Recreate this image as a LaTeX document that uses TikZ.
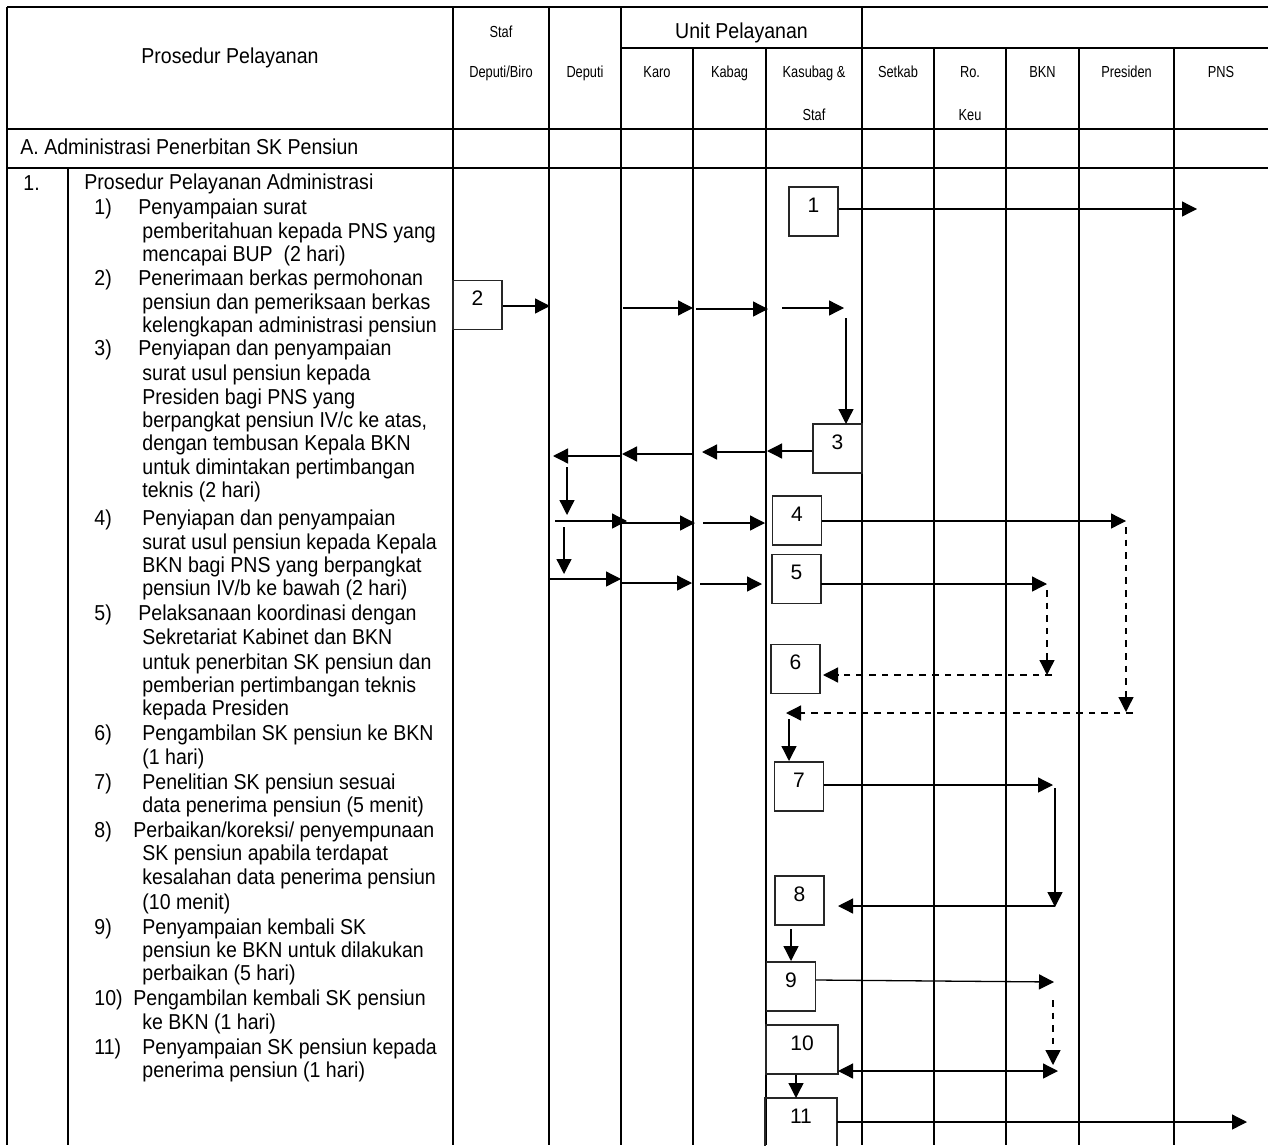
\documentclass[tikz,border=0pt]{standalone}
\usepackage{fontspec}
\setmainfont{Liberation Sans}
\newfontfamily\bodyfont[FakeStretch=0.905]{Liberation Sans}
\newfontfamily\hdrfont[FakeStretch=0.8]{Liberation Sans}
\usetikzlibrary{arrows.meta}
\begin{document}
\begin{tikzpicture}[x=0.5pt,y=-0.5pt,
  grid/.style={line width=1pt, black},
  body/.style={font=\bodyfont\fontsize{10.8}{12}\selectfont, inner sep=0pt, anchor=base west},
  big/.style={font=\bodyfont\fontsize{10.8}{12}\selectfont, inner sep=0pt, anchor=base},
  hdr/.style={font=\hdrfont\fontsize{8}{9}\selectfont, inner sep=0pt, anchor=base},
  boxn/.style={draw=black!85, line width=0.7pt, minimum width=24.5pt, minimum height=24.5pt, inner sep=0pt, text height=12.5pt, text depth=12pt, font=\fontsize{10.5}{12}\selectfont},
  wbox/.style={boxn, minimum width=36pt},
  arr/.style={line width=0.65pt, -{Triangle[length=7.5pt,width=7.5pt]}},
  darr/.style={arr, dash pattern=on 3.3pt off 3pt},
  dbl/.style={line width=0.65pt, {Triangle[length=7.5pt,width=7.5pt]}-{Triangle[length=7.5pt,width=7.5pt]}}
]
\clip (0,0) rectangle (1268,1145);
\fill[white] (0,0) rectangle (1268,1145);
% ---------- table grid ----------
\draw[grid] (7,7) -- (1268,7);
\draw[grid] (7,7) -- (7,1145);
\draw[grid] (621,48) -- (1268,48);
\draw[grid] (7,129) -- (1268,129);
\draw[grid] (7,168) -- (1268,168);
\foreach \xx in {453,549,621,862} \draw[grid] (\xx,7) -- (\xx,1145);
\foreach \xx in {693,766,934,1006,1079,1174} \draw[grid] (\xx,48) -- (\xx,1145);
\draw[grid] (68,168) -- (68,1145);
% ---------- header ----------
\node[big] (hpros) at (230,64) {Prosedur Pelayanan};
\node[big] (hunit) at (741.5,39) {Unit Pelayanan};
\node[hdr] (hstaf) at (501,38) {Staf};
\node[hdr] (hdb) at (501,78) {Deputi/Biro};
\node[hdr] (hdep) at (585,78) {Deputi};
\node[hdr] (hkaro) at (657,78) {Karo};
\node[hdr] (hkabag) at (729.5,78) {Kabag};
\node[hdr] (hkasub) at (814,78) {Kasubag \&};
\node[hdr] (hkasub2) at (814,120) {Staf};
\node[hdr] (hsetkab) at (898,78) {Setkab};
\node[hdr] (hro) at (970,78) {Ro.};
\node[hdr] (hro2) at (970,120) {Keu};
\node[hdr] (hbkn) at (1042.5,78) {BKN};
\node[hdr] (hpres) at (1126.5,78) {Presiden};
\node[hdr] (hpns) at (1221,78) {PNS};
\node[body] (hsecA) at (20,155) {A. Administrasi Penerbitan SK Pensiun};
\node[body] (hone) at (23,190) {1.};
% ---------- procedure text ----------
\foreach \yy/\xx/\tt [count=\i] in {
189/84/{Prosedur Pelayanan Administrasi},
214/138/{Penyampaian surat},
238/142/{pemberitahuan kepada PNS yang},
261/142/{mencapai BUP\ \ (2 hari)},
285/138/{Penerimaan berkas permohonan},
309/142/{pensiun dan pemeriksaan berkas},
332/142/{kelengkapan administrasi pensiun},
355/138/{Penyiapan dan penyampaian},
380/142/{surat usul pensiun kepada},
404/142/{Presiden bagi PNS yang},
427/142/{berpangkat pensiun IV/c ke atas,},
450/142/{dengan tembusan Kepala BKN},
474/142/{untuk dimintakan pertimbangan},
497/142/{teknis (2 hari)},
525/142/{Penyiapan dan penyampaian},
549/142/{surat usul pensiun kepada Kepala},
572/142/{BKN bagi PNS yang berpangkat},
595/142/{pensiun IV/b ke bawah (2 hari)},
620/138/{Pelaksanaan koordinasi dengan},
644/142/{Sekretariat Kabinet dan BKN},
669/142/{untuk penerbitan SK pensiun dan},
692/142/{pemberian pertimbangan teknis},
715/142/{kepada Presiden},
740/142/{Pengambilan SK pensiun ke BKN},
764/142/{(1 hari)},
789/142/{Penelitian SK pensiun sesuai},
812/142/{data penerima pensiun (5 menit)},
837/133/{Perbaikan/koreksi/ penyempunaan},
860/142/{SK pensiun apabila terdapat},
884/142/{kesalahan data penerima pensiun},
909/142/{(10 menit)},
934/142/{Penyampaian kembali SK},
957/142/{pensiun ke BKN untuk dilakukan},
980/142/{perbaikan (5 hari)},
1005/133/{Pengambilan kembali SK pensiun},
1029/142/{ke BKN (1 hari)},
1054/142/{Penyampaian SK pensiun kepada},
1077/142/{penerima pensiun (1 hari)}}
  \node[body, name=ln\i] at (\xx,\yy) {\tt};
\foreach \yy/\tt [count=\i] in {214/1), 285/2), 355/3), 525/4), 620/5), 740/6), 789/7), 837/8), 934/9), 1005/10), 1054/11)}
  \node[body, name=nm\i] at (94,\yy) {\tt};
% ---------- boxes ----------
\node[boxn] (b1) at (813.5,211.5) {1};
\node[boxn] (b2) at (477.5,305) {2};
\node[boxn] (b3) at (837.5,448.5) {3};
\node[boxn] (b4) at (797,520.5) {4};
\node[boxn] (b5) at (796.5,579) {5};
\node[boxn] (b6) at (795.5,669) {6};
\node[boxn] (b7) at (799,786.5) {7};
\node[boxn] (b8) at (799.5,900.5) {8};
\node[boxn] (b9) at (791,986.5) {9};
\node[wbox] (b10) at (802,1049.5) {10};
\node[wbox] (b11) at (801,1122.5) {11};
% ---------- connector points ----------
\coordinate (p1) at (1197,209);
\coordinate (p2) at (550,306);
\coordinate (p3a) at (623,308);  \coordinate (p3b) at (693,308);
\coordinate (p4a) at (696,309);  \coordinate (p4b) at (768,309);
\coordinate (p5a) at (782,308);  \coordinate (p5b) at (844,308);
\coordinate (p6a) at (846,318);  \coordinate (p6b) at (846,424);
\coordinate (p7b) at (767,451);
\coordinate (p8a) at (765,452);  \coordinate (p8b) at (702,452);
\coordinate (p9a) at (693,454);  \coordinate (p9b) at (622,454);
\coordinate (p10a) at (622,456); \coordinate (p10b) at (553,456);
\coordinate (p11a) at (567,467); \coordinate (p11b) at (567,515);
\coordinate (p12a) at (555,521); \coordinate (p12b) at (627,521);
\coordinate (p13a) at (622,523); \coordinate (p13b) at (695,523);
\coordinate (p14a) at (703,523); \coordinate (p14b) at (765,523);
\coordinate (p15b) at (1126,521);
\coordinate (p16a) at (1126,527); \coordinate (p16b) at (1126,712);
\coordinate (p17a) at (1133,713); \coordinate (p17b) at (786,713);
\coordinate (p18a) at (789,719); \coordinate (p18b) at (789,761);
\coordinate (p19a) at (564,527); \coordinate (p19b) at (564,574);
\coordinate (p20a) at (549,579); \coordinate (p20b) at (621,579);
\coordinate (p21a) at (622,583); \coordinate (p21b) at (692,583);
\coordinate (p22a) at (700,584); \coordinate (p22b) at (762,584);
\coordinate (p23a) at (821,584); \coordinate (p23b) at (1047,584);
\coordinate (p24a) at (1047,590); \coordinate (p24b) at (1047,675);
\coordinate (p25a) at (1052,675); \coordinate (p25b) at (823,675);
\coordinate (p26a) at (824,785); \coordinate (p26b) at (1053,785);
\coordinate (p27a) at (1055,788); \coordinate (p27b) at (1055,907);
\coordinate (p28a) at (1055,906); \coordinate (p28b) at (838,906);
\coordinate (p29a) at (791,929); \coordinate (p29b) at (791,961);
\coordinate (p30a) at (816,980); \coordinate (p30b) at (1054,982);
\coordinate (p31a) at (1053,1000); \coordinate (p31b) at (1053,1065);
\coordinate (p32a) at (838,1071); \coordinate (p32b) at (1058,1071);
\coordinate (p33a) at (796,1075); \coordinate (p33b) at (796,1098);
\coordinate (p34a) at (837,1122); \coordinate (p34b) at (1247,1122);
% ---------- connectors ----------
\draw[arr] (b1.east |- p1) -- (p1);
\draw[arr] (b2.east |- p2) -- (p2);
\draw[arr] (p3a) -- (p3b);
\draw[arr] (p4a) -- (p4b);
\draw[arr] (p5a) -- (p5b);
\draw[arr] (p6a) -- (p6b);
\draw[arr] (b3.west |- p7b) -- (p7b);
\draw[arr] (p8a) -- (p8b);
\draw[arr] (p9a) -- (p9b);
\draw[arr] (p10a) -- (p10b);
\draw[arr] (p11a) -- (p11b);
\draw[arr] (p12a) -- (p12b);
\draw[arr] (p13a) -- (p13b);
\draw[arr] (p14a) -- (p14b);
\draw[arr] (b4.east |- p15b) -- (p15b);
\draw[darr] (p16a) -- (p16b);
\draw[darr] (p17a) -- (p17b);
\draw[arr] (p18a) -- (p18b);
\draw[arr] (p19a) -- (p19b);
\draw[arr] (p20a) -- (p20b);
\draw[arr] (p21a) -- (p21b);
\draw[arr] (p22a) -- (p22b);
\draw[arr] (p23a) -- (p23b);
\draw[darr] (p24a) -- (p24b);
\draw[darr] (p25a) -- (p25b);
\draw[arr] (p26a) -- (p26b);
\draw[arr] (p27a) -- (p27b);
\draw[arr] (p28a) -- (p28b);
\draw[arr] (p29a) -- (p29b);
\draw[arr] (p30a) -- (p30b);
\draw[darr] (p31a) -- (p31b);
\draw[dbl] (p32a) -- (p32b);
\draw[arr] (p33a) -- (p33b);
\draw[arr] (p34a) -- (p34b);
\end{tikzpicture}
\end{document}
